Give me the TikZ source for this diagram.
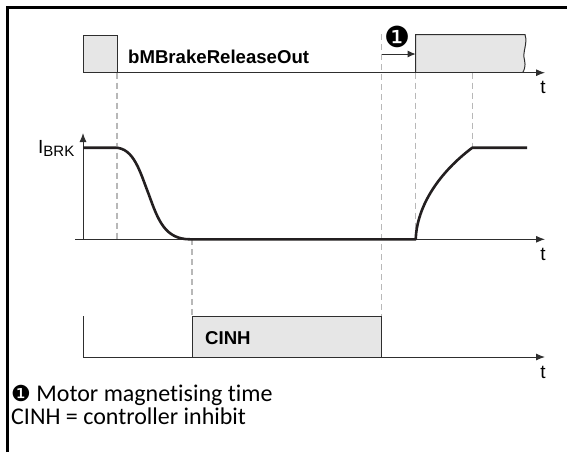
\documentclass[tikz,border=0pt]{standalone}
\usepackage{fontspec}
\setmainfont{Liberation Sans}
\newfontfamily\notefont[Ligatures=NoCommon]{Carlito}
\newfontfamily\symfont{DejaVu Sans}
\usetikzlibrary{arrows.meta}
\definecolor{boxfill}{HTML}{E6E6E6}
\definecolor{linegray}{HTML}{2E2E2E}
\definecolor{dashgray}{HTML}{B8B8B8}
\definecolor{curveblack}{HTML}{231F20}
\begin{document}
\begin{tikzpicture}[x=1pt,y=-1pt,
  axis/.style={draw=linegray,line width=1pt,-{Latex[length=9pt,width=7pt]}},
  sig/.style={draw=linegray,line width=1pt},
  sigfill/.style={fill=boxfill},
  guide/.style={draw=dashgray,line width=1.1pt,dash pattern=on 6pt off 4pt},
  curve/.style={draw=curveblack,line width=2.6pt,line join=round},
  lbl/.style={font=\bfseries\fontsize{18.6}{20}\selectfont,anchor=base west,inner sep=0},
  tlbl/.style={font=\fontsize{19}{20}\selectfont,inner sep=0},
  note/.style={font=\notefont\fontsize{24}{26}\selectfont,anchor=base west,inner sep=0}]
\useasboundingbox (0,0) rectangle (567,456);
\fill[white] (0,0) rectangle (567,456);
% frame
\draw[line width=3pt] (7,452) -- (7,7) -- (567,7);
% guide coordinates
\coordinate (gA1) at (117,72.7);  \coordinate (gA2) at (117,239.3);
\coordinate (gB1) at (192,239.3); \coordinate (gB2) at (192,316);
\coordinate (gC1) at (381.7,34);  \coordinate (gC2) at (381.7,316);
\coordinate (gD1) at (415.7,72.7);\coordinate (gD2) at (415.7,239.3);
\coordinate (gE1) at (472.3,72.7);\coordinate (gE2) at (472.3,147.7);
\draw[guide] (gA1) -- (gA2);
\draw[guide] (gB1) -- (gB2);
\draw[guide] (gC1) -- (gC2);
\draw[guide] (gD1) -- (gD2);
\draw[guide] (gE1) -- (gE2);
% ---- panel 1 : bMBrakeReleaseOut
\coordinate (o1) at (83,72.7);
\coordinate (e1) at (545,72.7);
\fill[sigfill] (83,72.7) rectangle (117,35);
\draw[sig] (83,72.7) -- (83,35) -- (117,35) -- (117,72.7);
\fill[sigfill] (415.7,72.7) -- (415.7,34.5) -- (525,34.5)
  .. controls (528,44) and (522,52) .. (524.5,60)
  .. controls (526,66) and (524,71) .. (522.5,72.7) -- cycle;
\draw[sig] (415.7,72.7) -- (415.7,34.5) -- (525,34.5)
  .. controls (528,44) and (522,52) .. (524.5,60)
  .. controls (526,66) and (524,71) .. (522.5,72.7);
\draw[axis] (o1) -- (e1);
\node[lbl] (signame) at (128,63) {bMBrakeReleaseOut};
\node[tlbl] (t1) at (543,87) {t};
\node[font=\symfont\fontsize{29}{29}\selectfont,inner sep=0] (m1) at (397,37) {❶};
\coordinate (ma) at (381.7,54);
\coordinate (mb) at (415.7,54);
\draw[draw=linegray,line width=1pt,-{Latex[length=8pt,width=7pt]}] (ma) -- (mb);
% ---- panel 2 : I_BRK
\coordinate (o2) at (83,239.3);
\draw[axis] (75,239.3) -- (545,239.3);
\draw[axis] (o2) -- (83,133);
\node[font=\fontsize{19}{20}\selectfont,anchor=base west,inner sep=0] (ibrk) at (38,153)
  {I\raisebox{-3.5pt}{\fontsize{15}{16}\selectfont BRK}};
\node[tlbl] (t2) at (543,254) {t};
\draw[curve] (83,147.7) -- (115,147.7)
  .. controls (134,147.7) and (140,172) .. (149,195)
  .. controls (158,220) and (165,239.3) .. (190,239.3)
  -- (415.7,239.3)
  .. controls (417,205) and (440,172) .. (472.3,147.7)
  -- (527,147.7);
% ---- panel 3 : CINH
\coordinate (o3) at (83,357);
\draw[sig] (83,316) -- (o3);
\fill[sigfill] (192,357) rectangle (381.7,316);
\draw[sig] (192,357) -- (192,316) -- (381.7,316) -- (381.7,357);
\draw[axis] (o3) -- (545,357);
\node[lbl] (cinh) at (205,344) {CINH};
\node[tlbl] (t3) at (543,372) {t};
% ---- notes
\node[note] (n1) at (11,401) {{\symfont\fontsize{22}{24}\selectfont ❶} Motor magnetising time};
\node[note] (n2) at (11,424) {CINH = controller inhibit};
\end{tikzpicture}
\end{document}
